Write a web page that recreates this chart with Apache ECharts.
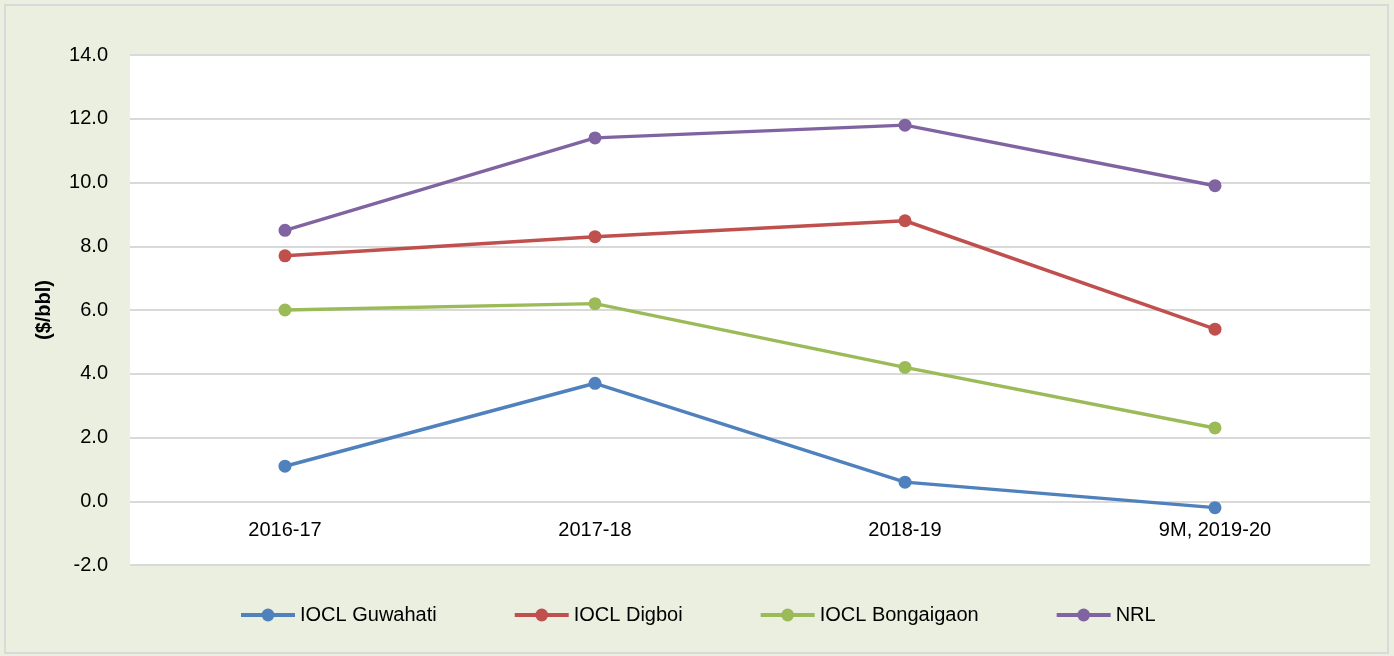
<!DOCTYPE html>
<html>
<head>
<meta charset="utf-8">
<script src="https://cdn.jsdelivr.net/npm/echarts@6/dist/echarts.min.js"></script>
<style>
  html, body { margin: 0; padding: 0; background: #fff; }
  #chart-container { width: 1394px; height: 656px; }
</style>
</head>
<body>
<div id="chart-container"></div>
<script>
var years = ['2016-17', '2017-18', '2018-19', '9M, 2019-20'];
var guwahati = [1.1, 3.7, 0.6, -0.2];
var digboi = [7.7, 8.3, 8.8, 5.4];
var bongaigaon = [6.0, 6.2, 4.2, 2.3];
var nrl = [8.5, 11.4, 11.8, 9.9];

var dom = document.getElementById('chart-container');
var myChart = echarts.init(dom, null, { renderer: 'canvas' });

var font = 'Liberation Sans, Arial, sans-serif';

function lineSeries(name, data, color) {
  return {
    name: name,
    type: 'line',
    data: data,
    symbol: 'circle',
    symbolSize: 13,
    lineStyle: { width: 3.5, color: color },
    itemStyle: { color: color },
    emphasis: { disabled: true }
  };
}

var option = {
  backgroundColor: '#ebefdf',
  animation: false,
  graphic: [{
    type: 'rect',
    shape: { x: 5, y: 5, width: 1383, height: 648 },
    style: { fill: 'none', stroke: '#d9d9d9', lineWidth: 2 },
    silent: true
  }],
  grid: {
    left: 130, right: 24, top: 55, bottom: 91,
    show: true, backgroundColor: '#ffffff', borderWidth: 0
  },
  legend: {
    top: 600,
    left: 234,
    itemGap: 76,
    itemWidth: 54,
    itemHeight: 16,
    lineStyle: { width: 4 },
    textStyle: { fontFamily: font, fontSize: 20, color: '#000' },
    data: ['IOCL Guwahati', 'IOCL Digboi', 'IOCL Bongaigaon', 'NRL']
  },
  xAxis: {
    type: 'category',
    data: years,
    boundaryGap: true,
    offset: -64,
    axisLine: { show: false },
    axisTick: { show: false },
    axisLabel: { fontFamily: font, fontSize: 20, color: '#000', margin: 19 }
  },
  yAxis: {
    type: 'value',
    min: -2,
    max: 14,
    interval: 2,
    name: '($/bbl)',
    nameLocation: 'middle',
    nameGap: 76,
    nameTextStyle: { fontFamily: font, fontSize: 20, fontWeight: 'bold', color: '#000' },
    axisLine: { show: false },
    axisTick: { show: false },
    axisLabel: {
      fontFamily: font, fontSize: 20, color: '#000', margin: 22,
      formatter: function (v) { return v.toFixed(1); }
    },
    splitLine: { lineStyle: { color: '#d9d9d9', width: 2 } }
  },
  series: [
    lineSeries('IOCL Guwahati', guwahati, '#4f81bd'),
    lineSeries('IOCL Digboi', digboi, '#c0504d'),
    lineSeries('IOCL Bongaigaon', bongaigaon, '#9bbb59'),
    lineSeries('NRL', nrl, '#8064a2')
  ]
};

myChart.setOption(option);
window.addEventListener('resize', myChart.resize);
</script>
</body>
</html>
